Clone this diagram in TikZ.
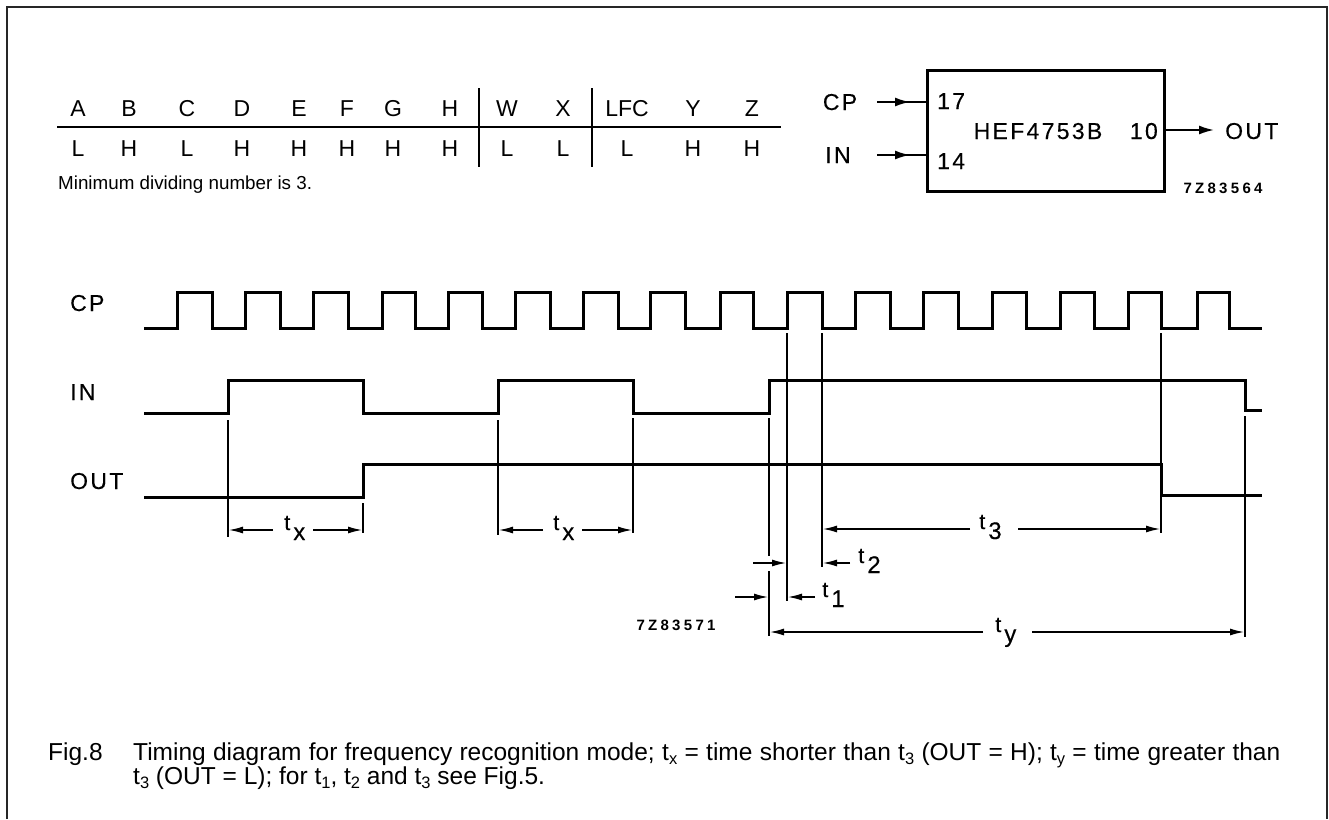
\documentclass[tikz,border=0pt]{standalone}
\usepackage{fontspec}
\setmainfont{Liberation Sans}
\newfontfamily\drawfont[LetterSpace=10,FakeBold=0.3]{Liberation Sans}
\newfontfamily\codefont[LetterSpace=22]{Liberation Sans Bold}
\usetikzlibrary{arrows.meta}
\newcommand\tsub[1]{t\hspace{3pt}\raisebox{-10pt}{\fontsize{24}{24}\selectfont #1}}
\newcommand\csub[1]{\raisebox{-4pt}{\fontsize{16.5}{16.5}\selectfont #1}}
\begin{document}
\begin{tikzpicture}[x=1pt,y=-1pt,
  frame/.style={line width=2.5pt, draw=black!85},
  tline/.style={line width=1.5pt},
  sig/.style={line width=3pt, line join=miter},
  hair/.style={line width=1.3pt},
  dim/.style={line width=1.3pt, -{Latex[length=14pt,width=7pt]}},
  pin/.style={line width=1.8pt},
  pintip/.style={line width=1.8pt, -{Latex[length=15pt,width=9pt]}},
  tab/.style={inner sep=0, font=\fontsize{23}{23}\selectfont},
  lab/.style={inner sep=0, font=\drawfont\fontsize{23}{23}\selectfont},
  tlab/.style={inner sep=0, anchor=base west, font=\drawfont\fontsize{22}{22}\selectfont},
  code/.style={inner sep=0, font=\codefont\fontsize{15}{15}\selectfont},
  capt/.style={inner sep=0, anchor=base west, font=\fontsize{24.5}{24.5}\selectfont}]
\useasboundingbox (0,0) rectangle (1329,819);
% frame (open at bottom)
\draw[frame] (7,819) -- (7,7) -- (1327,7) -- (1327,819);

% ---- table ----
\foreach \x/\a/\b in {78/A/L,129/B/H,187/C/L,242/D/H,299/E/H,347/F/H,393/G/H,450/H/H,507/W/L,563/X/L,627/LFC/L,693/Y/H,752/Z/H} {
  \node[tab, anchor=base] (h\a) at (\x,116) {\a};
  \node[tab, anchor=base] (v\a) at (\x,156) {\b};
}
\draw[tline] (57,127) -- (781,127);
\draw[tline] (479,88) -- (479,167);
\draw[tline] (592,88) -- (592,167);
\node[inner sep=0, anchor=base west, font=\fontsize{18.8}{18.8}\selectfont] (minnote) at (58,189) {Minimum dividing number is 3.};

% ---- block symbol ----
\node[draw, line width=3pt, minimum width=237pt, minimum height=121pt, inner sep=0, anchor=north west] (chip) at (926,69) {};
\node[lab, anchor=base] (chipname) at (1038,139) {HEF4753B};
\node[lab, anchor=base west] (p17) at (937,109) {17};
\node[lab, anchor=base west] (p14) at (937,169) {14};
\node[lab, anchor=base east] (p10) at (1158,139) {10};
\node[lab, anchor=base] (cplab) at (840,110) {CP};
\node[lab, anchor=base] (inlab) at (838,163) {IN};
\node[lab, anchor=base west] (outlab) at (1225,139) {OUT};
\node[code, anchor=base] (codeA) at (1223,193) {7Z83564};
\coordinate (cpin) at (877,102);
\coordinate (inin) at (877,155);
\draw[pin] (cpin) -- (chip.west |- cpin);
\draw[pintip] (cpin) -- ++(33,0);
\draw[pin] (inin) -- (chip.west |- inin);
\draw[pintip] (inin) -- ++(33,0);
\coordinate (outend) at (1214,130);
\draw[pintip] (chip.east |- outend) -- (outend);

% ---- timing diagram ----
\node[lab, anchor=base west] (sCP) at (70,311) {CP};
\node[lab, anchor=base west] (sIN) at (70,400) {IN};
\node[lab, anchor=base west] (sOUT) at (70,489) {OUT};

\draw[sig] (144,328) \foreach \r/\f in {177/212,245/280,313/348,382/415,448/482,515/550,583/618,650/685,720/753,787/822,855/890,923/958,992/1026,1060/1094,1128/1161,1197/1229} { -- (\r,328) -- (\r,292) -- (\f,292) -- (\f,328) } -- (1262,328);
\draw[sig] (144,413) -- (228,413) -- (228,380) -- (363,380) -- (363,413) -- (498,413) -- (498,380) -- (633,380) -- (633,413) -- (769,413) -- (769,380) -- (1245,380) -- (1245,410) -- (1262,410);
\draw[sig] (144,497) -- (363,497) -- (363,464) -- (1161,464) -- (1161,495) -- (1262,495);

% reference lines
\draw[hair] (228,420) -- (228,537);
\draw[hair] (363,503) -- (363,533);
\draw[hair] (498,420) -- (498,535);
\draw[hair] (633,418) -- (633,533);
\draw[hair] (769,418) -- (769,556);
\draw[hair] (769,571) -- (769,636);
\draw[hair] (787,333) -- (787,601);
\draw[hair] (822,333) -- (822,567);
\draw[hair] (1161,333) -- (1161,533);
\draw[hair] (1245,416) -- (1245,637);

% dimensions
\node[tlab] (tx1) at (284,530) {\tsub{x}};
\draw[dim] (273,530) -- (229,530);
\draw[dim] (313,530) -- (362,530);
\node[tlab] (tx2) at (553,530) {\tsub{x}};
\draw[dim] (543,530) -- (499,530);
\draw[dim] (582,530) -- (632,530);
\node[tlab] (t3) at (979,529) {\tsub{3}};
\draw[dim] (970,529) -- (823,529);
\draw[dim] (1018,529) -- (1160,529);
\node[tlab] (t2) at (858,563) {\tsub{2}};
\draw[dim] (753,563) -- (786,563);
\draw[dim] (850,563) -- (823,563);
\node[tlab] (t1) at (822,597) {\tsub{1}};
\draw[dim] (735,597) -- (768,597);
\draw[dim] (815,597) -- (788,597);
\node[tlab] (ty) at (995,632) {\tsub{y}};
\draw[dim] (983,632) -- (770,632);
\draw[dim] (1032,632) -- (1244,632);
\node[code, anchor=base] (codeB) at (676,630) {7Z83571};

% ---- caption ----
\node[capt] (fig) at (48,760) {Fig.8};
\node[capt] (cap1) at (133,760) {\makebox[1147pt][s]{Timing diagram for frequency recognition mode; t\csub{x} = time shorter than t\csub{3} (OUT = H); t\csub{y} = time greater than}};
\node[capt] (cap2) at (133,784) {t\csub{3} (OUT = L); for t\csub{1}, t\csub{2} and t\csub{3} see Fig.5.};
\end{tikzpicture}
\end{document}
